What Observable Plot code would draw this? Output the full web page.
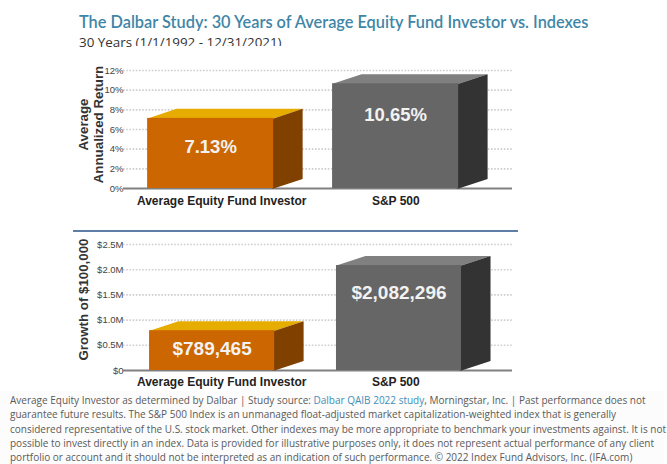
<!DOCTYPE html>
<html>
<head>
<meta charset="utf-8">
<script src="https://cdn.jsdelivr.net/npm/d3@7"></script>
<script src="https://cdn.jsdelivr.net/npm/@observablehq/plot@0.6"></script>
<style>
html,body{margin:0;padding:0;background:#fff;width:667px;height:464px;overflow:hidden}
#page{position:relative;width:667px;height:464px;overflow:hidden}
#page>*{position:absolute}
#title{left:79px;top:12px;font:600 16.33px Lato,sans-serif;color:#3f86a6;white-space:nowrap}
#subclip{left:79px;top:33px;height:17px;width:300px;font:13.4px "Open Sans",sans-serif;color:#333;white-space:nowrap;line-height:19px;
  clip-path:polygon(0 0,100% 0,100% 13px,57px 13px,57px 17px,0 17px)}
#sep{left:73px;top:230px;width:445px;height:2px;background:#5f7ea6}
#foot{left:0;top:391px;width:654px;height:73px;padding:2px 0 0 10px;font:10px/14.35px "Open Sans",sans-serif;color:#5a5a5a;white-space:nowrap;background:#fcfcfc}
#foot a{color:#3f8fb8;text-decoration:none}
#chart1,#chart2{left:0;top:0;width:667px;height:464px}
svg{position:absolute;left:0;overflow:visible}
</style>
</head>
<body>
<div id="page">
  <div id="title"></div>
  <div id="subclip"></div>
  <div id="foot"></div>
  <div id="chart1"></div>
  <div id="sep"></div>
  <div id="chart2"></div>
</div>
<script>
const titleText = "The Dalbar Study: 30 Years of Average Equity Fund Investor vs. Indexes";
const subtitleText = "30 Years (1/1/1992 - 12/31/2021)";
const categories = ["Average Equity Fund Investor", "S&P 500"];
const annualizedReturn = [7.13, 10.65];
const returnLabels = ["7.13%", "10.65%"];
const returnTicks = [0, 2, 4, 6, 8, 10, 12];
const growthOf100k = [789465, 2082296];
const growthLabels = ["$789,465", "$2,082,296"];
const growthTicks = [0, 500000, 1000000, 1500000, 2000000, 2500000];
const growthTickLabels = ["$0", "$0.5M", "$1.0M", "$1.5M", "$2.0M", "$2.5M"];
const frontColors = ["#cc6600", "#666666"];
const topColors = ["#e6ac00", "#808080"];
const sideColors = ["#804000", "#333333"];
const footerLines = [
  'Average Equity Investor as determined by Dalbar | Study source: <a>Dalbar QAIB 2022 study</a>, Morningstar, Inc. | Past performance does not',
  'guarantee future results. The S&amp;P 500 Index is an unmanaged float-adjusted market capitalization-weighted index that is generally',
  'considered representative of the U.S. stock market. Other indexes may be more appropriate to benchmark your investments against. It is not',
  'possible to invest directly in an index. Data is provided for illustrative purposes only, it does not represent actual performance of any client',
  'portfolio or account and it should not be interpreted as an indication of such performance. © 2022 Index Fund Advisors, Inc. (IFA.com)'
];

document.getElementById("title").textContent = titleText;
document.getElementById("subclip").textContent = subtitleText;
document.getElementById("foot").innerHTML = footerLines.join("<br>");

const font = '"Liberation Sans", Arial, sans-serif';

function chart(o) {
  const depthY = o.depthY;
  const bars = o.values.map((v, i) => ({
    cat: categories[i], v, i,
    x1: o.barLeft[i], x2: o.barLeft[i] + o.barWidth,
    label: o.labels[i], labelY: v * o.labelAt[i],
    catX: o.catX[i]
  }));
  const faces = bars.flatMap(b => {
    const a = b.x1, c = b.x2, d = o.depthX, t = b.v, e = 0.01, f = depthY * 0.2;
    return [
      {id: "top" + b.i, color: topColors[b.i], pts: [[a + e, t - f], [a, t], [a + d, t + depthY], [c + d, t + depthY], [c, t], [c - e, t - f]]},
      {id: "side" + b.i, color: sideColors[b.i], pts: [[c - e, 0], [c, 0], [c + d, depthY], [c + d, t + depthY], [c, t], [c - e, t]]}
    ];
  }).flatMap(f => f.pts.map(p => ({id: f.id, color: f.color, x: p[0], y: p[1]})));

  return Plot.plot({
    width: 667, height: o.height,
    marginLeft: 123, marginRight: 155, marginTop: o.marginTop, marginBottom: o.marginBottom,
    style: {background: "transparent", fontFamily: font},
    x: {domain: [0, 2], axis: null},
    y: {domain: o.domain, axis: null},
    color: {type: "identity"},
    marks: [
      Plot.ruleY(o.ticks.slice(1), {stroke: "#cfcfcf", strokeWidth: 1.6, strokeDasharray: "1.6,1.6"}),
      Plot.axisY({ticks: o.ticks, tickFormat: o.tickFormat, tickSize: 0, tickPadding: 0, label: null,
        fontSize: 9.5, fill: "#444", stroke: "none"}),
      Plot.ruleY([0], {stroke: "#808080", strokeWidth: 2}),
      Plot.line(faces, {x: "x", y: "y", z: "id", fill: "color", stroke: "none", curve: "linear"}),
      Plot.rectY(bars, {x1: "x1", x2: "x2", y1: 0, y2: "v", fill: (d) => frontColors[d.i], inset: 0}),
      Plot.text(bars, {x: "catX", y: 0, text: "cat", dy: o.catDy, fontSize: 12, fontWeight: "bold", fill: "#222"}),
      Plot.text(bars, {x: (d) => (d.x1 + d.x2) / 2, y: "labelY", text: "label", fontSize: o.labelSize, fontWeight: "bold", fill: "#f2f2f2"}),
      Plot.text([o.axisTitle], {frameAnchor: "left", textAnchor: "middle", rotate: -90, dx: o.titleDx, dy: o.titleDy, fontSize: 13.3, fontWeight: "bold", fill: "#333", lineHeight: 1.1})
    ]
  });
}

const c1 = chart({
  values: annualizedReturn, labels: returnLabels, ticks: returnTicks, domain: [0, 12],
  tickFormat: (d) => d + "%", labelSize: 18.5,
  height: 160, marginTop: 15, marginBottom: 27,
  barLeft: [0.124, 1.075], barWidth: 0.648, depthX: 0.149, depthY: 0.97,
  labelAt: [0.585, 0.705], catX: [0.505, 1.40], catDy: 13,
  axisTitle: "Average\nAnnualized Return", titleDx: -33, titleDy: -5
});
c1.style.top = "55px";
document.getElementById("chart1").appendChild(c1);

const c2 = chart({
  values: growthOf100k, labels: growthLabels, ticks: growthTicks, domain: [0, 2500000],
  tickFormat: (d) => growthTickLabels[growthTicks.indexOf(d)], labelSize: 19,
  height: 165, marginTop: 10, marginBottom: 29,
  barLeft: [0.134, 1.095], barWidth: 0.643, depthX: 0.149, depthY: 188000,
  labelAt: [0.55, 0.735], catX: [0.505, 1.40], catDy: 12,
  axisTitle: "Growth of $100,000", titleDx: -40, titleDy: -8
});
c2.style.top = "234px";
document.getElementById("chart2").appendChild(c2);
</script>
</body>
</html>
